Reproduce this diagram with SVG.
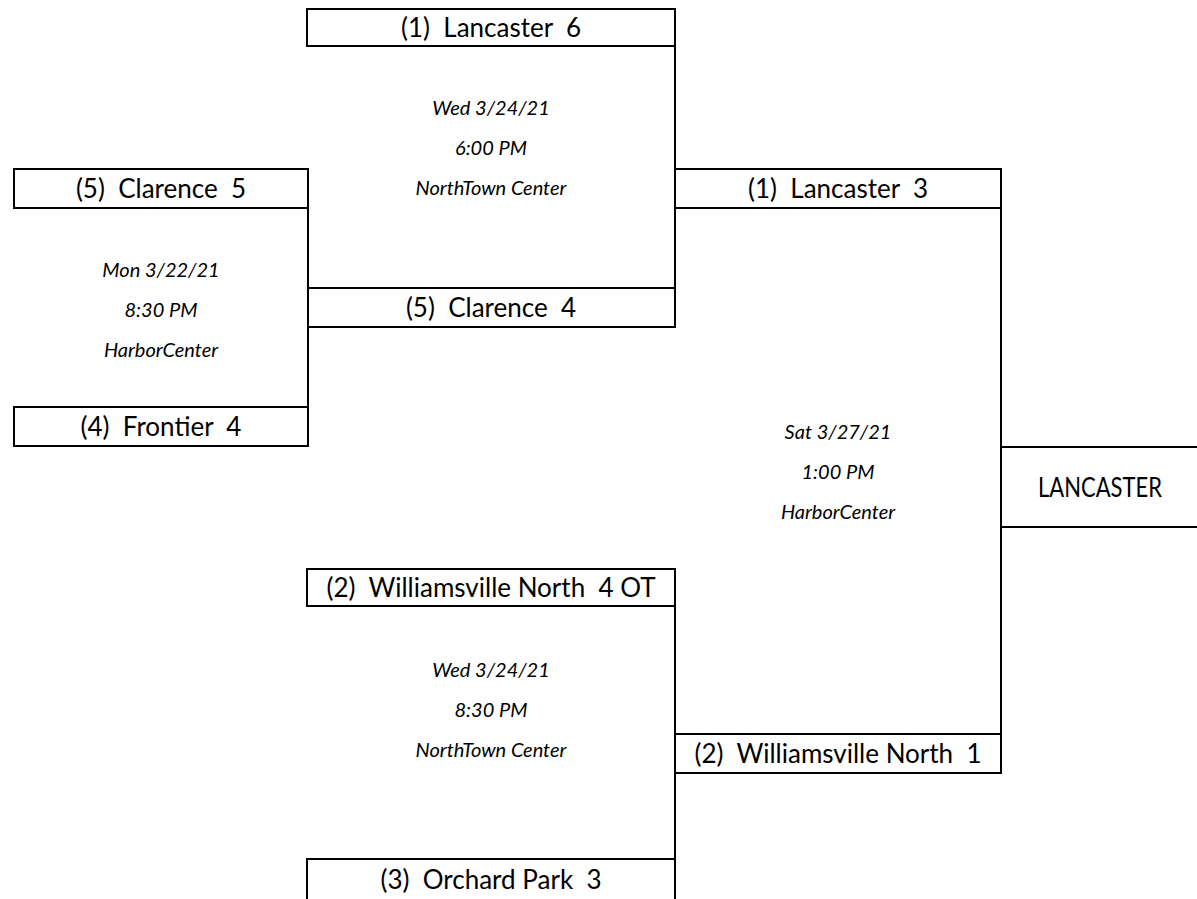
<svg xmlns="http://www.w3.org/2000/svg" width="1197" height="899" viewBox="0 0 1197 899">
<style>
.box{fill:#fff;stroke:#000;stroke-width:2}
.ln{stroke:#000;stroke-width:2;fill:none}
.t{font-family:Lato,"Open Sans","Liberation Sans",sans-serif;font-size:26px;fill:#000;text-anchor:middle;white-space:pre}
.i{font-family:Lato,"Open Sans","Liberation Sans",sans-serif;font-size:20px;font-style:italic;fill:#000;text-anchor:middle}
</style>
<rect width="1197" height="899" fill="#fff"/>
<g id="connectors">
<line class="ln" x1="675" y1="9" x2="675" y2="327"/>
<line class="ln" x1="308" y1="169" x2="308" y2="446"/>
<line class="ln" x1="1001" y1="169" x2="1001" y2="773"/>
<line class="ln" x1="675" y1="569" x2="675" y2="899"/>
<line class="ln" x1="1001" y1="447" x2="1197" y2="447"/>
<line class="ln" x1="1001" y1="527" x2="1197" y2="527"/>
</g>
<g id="n1"><rect class="box" x="307" y="9" width="368" height="37"/><text class="t" x="491" y="37">(1)  Lancaster  6</text></g>
<g id="n2"><rect class="box" x="14" y="169" width="294" height="39"/><text class="t" x="161" y="198">(5)  Clarence  5</text></g>
<g id="n3"><rect class="box" x="308" y="288" width="367" height="39"/><text class="t" x="491" y="317">(5)  Clarence  4</text></g>
<g id="n4"><rect class="box" x="14" y="407" width="294" height="39"/><text class="t" x="161" y="436">(4)  Frontier  4</text></g>
<g id="n5"><rect class="box" x="675" y="169" width="326" height="39"/><text class="t" x="838" y="198">(1)  Lancaster  3</text></g>
<g id="n6"><rect class="box" x="307" y="569" width="368" height="37"/><text class="t" x="491" y="597">(2)  Williamsville North  4 OT</text></g>
<g id="n7"><rect class="box" x="675" y="734" width="326" height="39"/><text class="t" x="838" y="763">(2)  Williamsville North  1</text></g>
<g id="n8"><rect class="box" x="307" y="859" width="368" height="45"/><text class="t" x="491" y="889">(3)  Orchard Park  3</text></g>
<g id="champion"><text class="t" x="1100" y="497" textLength="124" lengthAdjust="spacingAndGlyphs">LANCASTER</text></g>
<g id="g1"><text class="i" x="491" y="115">Wed 3/24/21</text><text class="i" x="491" y="155">6:00 PM</text><text class="i" x="491" y="195">NorthTown Center</text></g>
<g id="g2"><text class="i" x="161" y="277">Mon 3/22/21</text><text class="i" x="161" y="317">8:30 PM</text><text class="i" x="161" y="357">HarborCenter</text></g>
<g id="g3"><text class="i" x="838" y="439">Sat 3/27/21</text><text class="i" x="838" y="479">1:00 PM</text><text class="i" x="838" y="519">HarborCenter</text></g>
<g id="g4"><text class="i" x="491" y="677">Wed 3/24/21</text><text class="i" x="491" y="717">8:30 PM</text><text class="i" x="491" y="757">NorthTown Center</text></g>
</svg>
